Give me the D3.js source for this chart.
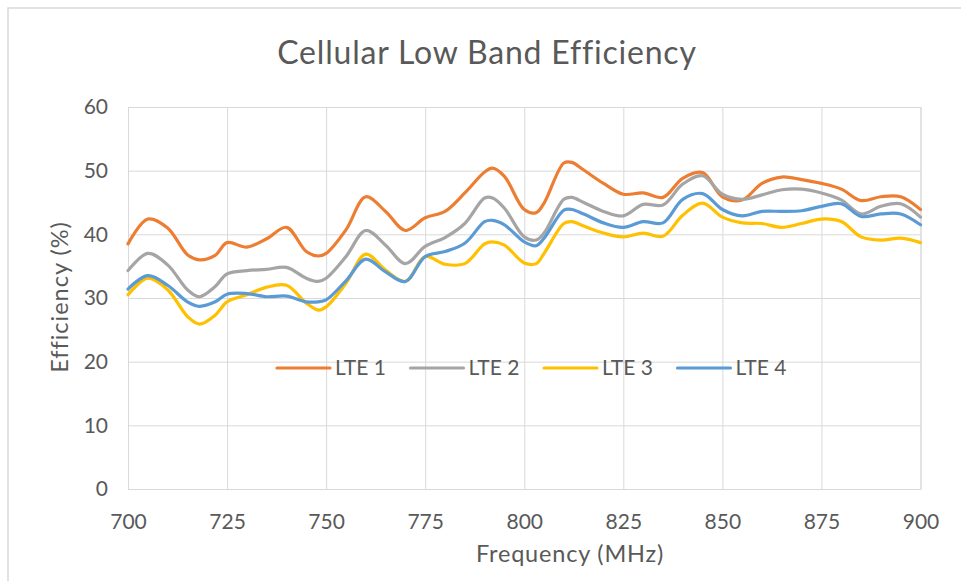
<!DOCTYPE html>
<html>
<head>
<meta charset="utf-8">
<script src="https://cdnjs.cloudflare.com/ajax/libs/d3/7.8.5/d3.min.js"></script>
<style>
  body { margin: 0; background: #fff; }
  text { font-family: Lato, "Open Sans", sans-serif; fill: #595959; }
</style>
</head>
<body>
<div id="chart"></div>
<script>
var freq = [700,705,710,715,718,722,725,730,735,740,
            745,748,750,755,760,765,770,775,780,785,
            790,792,795,800,803,805,810,812,815,820,
            825,830,835,840,845,850,855,860,865,870,
            875,880,885,890,895,900];

var lte1 = [38.5,42.4,41.0,36.8,36.0,36.7,38.7,38.0,39.3,41.1,
            37.3,36.6,37.0,40.7,45.9,43.6,40.6,42.6,43.6,46.5,
            49.8,50.4,49.1,43.9,43.4,44.9,51.2,51.3,50.1,48.0,
            46.3,46.5,45.8,48.8,49.7,45.9,45.4,48.0,49.0,48.6,
            48.0,47.1,45.3,45.9,45.9,43.9];
var lte2 = [34.3,37.0,35.2,31.3,30.2,31.8,33.8,34.3,34.5,34.8,
            33.1,32.6,33.1,36.5,40.6,38.3,35.4,38.1,39.5,41.7,
            45.7,45.7,44.1,39.6,39.1,40.2,45.5,45.8,45.0,43.6,
            42.9,44.7,44.6,47.9,49.2,46.3,45.5,46.2,47.0,47.1,
            46.5,45.4,43.2,44.4,44.8,42.7];
var lte3 = [30.5,33.1,31.3,27.1,25.9,27.3,29.4,30.5,31.7,32.0,
            29.2,28.1,28.6,32.3,36.9,34.4,32.6,36.5,35.3,35.4,
            38.5,38.8,38.3,35.5,35.4,37.0,41.7,42.0,41.3,40.2,
            39.6,40.2,39.7,43.0,44.9,42.7,41.8,41.7,41.1,41.7,
            42.4,42.0,39.6,39.1,39.4,38.7];
var lte4 = [31.4,33.5,32.0,29.4,28.7,29.4,30.6,30.7,30.2,30.3,
            29.4,29.4,29.7,32.7,36.1,34.1,32.6,36.5,37.3,38.6,
            42.0,42.2,41.5,38.8,38.2,39.4,43.8,43.9,43.2,41.8,
            41.1,42.0,41.8,45.5,46.4,43.9,42.9,43.6,43.6,43.7,
            44.4,44.8,42.8,43.2,43.2,41.5];

var seriesNames = ["LTE 1", "LTE 2", "LTE 3", "LTE 4"];
var seriesValues = [lte1, lte2, lte3, lte4];
var seriesColors = ["#ED7D31", "#A5A5A5", "#FFC000", "#5B9BD5"];
var xTicks = [700, 725, 750, 775, 800, 825, 850, 875, 900];
var yTicks = [0, 10, 20, 30, 40, 50, 60];

var width = 961,
    height = 581,
    plot = { left: 128, right: 920.5, top: 107, bottom: 489 };

var svg = d3.select("#chart")
    .append("svg")
    .attr("width", width)
    .attr("height", height);

// chart frame (runs off the right and bottom edges)
svg.append("rect")
    .attr("x", 8)
    .attr("y", 8)
    .attr("width", 1000)
    .attr("height", 1000)
    .attr("fill", "none")
    .attr("stroke", "#D9D9D9")
    .attr("stroke-width", 1.5);

var x = d3.scaleLinear().domain([700, 900]).range([plot.left, plot.right]);
var y = d3.scaleLinear().domain([0, 60]).range([plot.bottom, plot.top]);

// gridlines
svg.append("g")
    .attr("transform", "translate(0," + plot.bottom + ")")
    .call(d3.axisBottom(x).tickValues(xTicks).tickSize(-(plot.bottom - plot.top)).tickFormat(""))
    .call(function(g) {
        g.select(".domain").attr("stroke", "#D9D9D9");
        g.selectAll(".tick line").attr("stroke", "#D9D9D9");
    });

svg.append("g")
    .attr("transform", "translate(" + plot.left + ",0)")
    .call(d3.axisLeft(y).tickValues(yTicks).tickSize(-(plot.right - plot.left)).tickFormat(""))
    .call(function(g) {
        g.select(".domain").remove();
        g.selectAll(".tick line").attr("stroke", "#D9D9D9");
    });

// tick labels
svg.append("g")
    .attr("transform", "translate(0," + plot.bottom + ")")
    .call(d3.axisBottom(x).tickValues(xTicks).tickSize(0).tickPadding(25))
    .call(function(g) {
        g.select(".domain").remove();
        g.selectAll("text")
            .attr("fill", "#595959")
            .style("font-size", "21px")
            .style("font-family", "Lato, sans-serif");
    });

svg.append("g")
    .attr("transform", "translate(" + plot.left + ",0)")
    .call(d3.axisLeft(y).tickValues(yTicks).tickSize(0).tickPadding(20))
    .call(function(g) {
        g.select(".domain").remove();
        g.selectAll("text")
            .attr("fill", "#595959")
            .style("font-size", "21px")
            .style("font-family", "Lato, sans-serif");
    });

// lines
var line = d3.line()
    .x(function(d) { return x(d.f); })
    .y(function(d) { return y(d.v); })
    .curve(d3.curveCatmullRom.alpha(0.5));

seriesValues.forEach(function(vals, i) {
    var pts = freq.map(function(f, j) { return { f: f, v: vals[j] }; });
    svg.append("path")
        .datum(pts)
        .attr("d", line)
        .attr("fill", "none")
        .attr("stroke", seriesColors[i])
        .attr("stroke-width", 3.2)
        .attr("stroke-linejoin", "round")
        .attr("stroke-linecap", "round");
});

// legend
var legend = svg.append("g").attr("transform", "translate(277,368)");
var item = legend.selectAll(".item")
    .data(seriesNames)
    .enter().append("g")
      .attr("class", "item")
      .attr("transform", function(d, i) { return "translate(" + (i * 133.5) + ",0)"; });

item.append("line")
    .attr("x1", 0).attr("x2", 53)
    .attr("y1", 0).attr("y2", 0)
    .attr("stroke", function(d, i) { return seriesColors[i]; })
    .attr("stroke-width", 3.2)
    .attr("stroke-linecap", "round");

item.append("text")
    .attr("x", 58)
    .attr("y", 0)
    .attr("dy", "0.35em")
    .style("font-size", "21px")
    .text(function(d) { return d; });

// titles
svg.append("text")
    .attr("x", 487)
    .attr("y", 64)
    .attr("text-anchor", "middle")
    .style("font-size", "32px")
    .style("letter-spacing", "0.8px")
    .text("Cellular Low Band Efficiency");

svg.append("text")
    .attr("x", 570)
    .attr("y", 562)
    .attr("text-anchor", "middle")
    .style("font-size", "23.5px")
    .style("letter-spacing", "0.8px")
    .text("Frequency (MHz)");

svg.append("text")
    .attr("transform", "translate(68,297) rotate(-90)")
    .attr("text-anchor", "middle")
    .style("font-size", "23.5px")
    .style("letter-spacing", "1px")
    .text("Efficiency (%)");
</script>
</body>
</html>
